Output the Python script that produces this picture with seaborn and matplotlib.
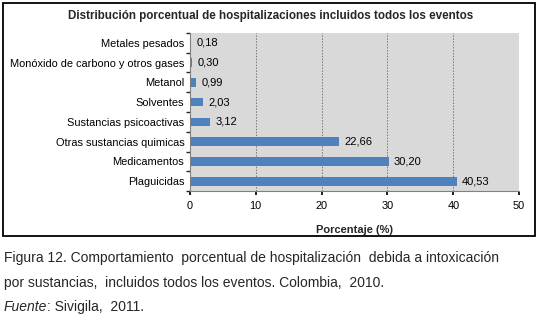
import numpy as np
import pandas as pd
import seaborn as sns
import matplotlib.pyplot as plt
from matplotlib.patches import Rectangle

sns.set_theme(style="white")
plt.rcParams["font.family"] = ["Liberation Sans", "DejaVu Sans"]

# data
categories = ["Metales pesados", "Monóxido de carbono y otros gases", "Metanol",
              "Solventes", "Sustancias psicoactivas", "Otras sustancias quimicas",
              "Medicamentos", "Plaguicidas"]
values = [0.18, 0.30, 0.99, 2.03, 3.12, 22.66, 30.20, 40.53]
x_ticks = [0, 10, 20, 30, 40, 50]

df = pd.DataFrame({"Sustancia": categories, "Porcentaje": values})

fig = plt.figure(figsize=(5.38, 3.2), dpi=100)
ax = fig.add_axes([0.353, 0.403, 0.612, 0.494])

sns.barplot(data=df, x="Porcentaje", y="Sustancia", orient="h",
            color="#4F81BD", saturation=1, width=0.44, linewidth=0, ax=ax)

ax.set_facecolor("#D9D9D9")
ax.set_xlim(0, 50)
ax.set_xticks(x_ticks)
for x in x_ticks[1:-1]:
    ax.axvline(x, color="#777777", lw=0.7, ls=(0, (1.5, 1.5)), zorder=0.5)

# value labels
for i, v in enumerate(values):
    ax.text(v + 0.8, i, f"{v:.2f}".replace(".", ","), va="center",
            ha="left", fontsize=8, color="black")

ax.set_ylabel("")
ax.set_xlabel("Porcentaje (%)", fontsize=8, fontweight="bold", labelpad=10)
ax.tick_params(axis="both", labelsize=7.9, colors="black", length=0, pad=4)
ax.set_yticks(np.arange(-0.5, len(categories), 1), minor=True)
ax.tick_params(axis="y", which="minor", length=3, direction="out", left=True)
ax.tick_params(axis="x", which="major", length=3, direction="out", bottom=True)
for s in ["top", "right"]:
    ax.spines[s].set_visible(False)
for s in ["left", "bottom"]:
    ax.spines[s].set_color("#808080")
    ax.spines[s].set_linewidth(0.8)

fig.text(0.503, 0.95, "Distribución porcentual de hospitalizaciones incluidos todos los eventos",
         ha="center", va="center", fontsize=8.4, fontweight="bold")

# chart border
fig.patches.append(Rectangle((3 / 538, 1 - 236 / 320), 532 / 538, 233 / 320,
                             transform=fig.transFigure, fill=False,
                             edgecolor="black", lw=1.3))

# caption below the chart
fig.text(4 / 538, 1 - 258 / 320,
         "Figura 12. Comportamiento  porcentual de hospitalización  debida a intoxicación",
         ha="left", va="center", fontsize=10)
fig.text(4 / 538, 1 - 283 / 320,
         "por sustancias,  incluidos todos los eventos. Colombia,  2010.",
         ha="left", va="center", fontsize=10)
fuente = fig.text(4 / 538, 1 - 307 / 320, "Fuente", ha="left", va="center",
                  fontsize=10, style="italic")
ax.annotate(": Sivigila,  2011.", xy=(1, 0.5), xycoords=fuente,
            ha="left", va="center", fontsize=10, annotation_clip=False)

fig.savefig("out.png", dpi=100)
